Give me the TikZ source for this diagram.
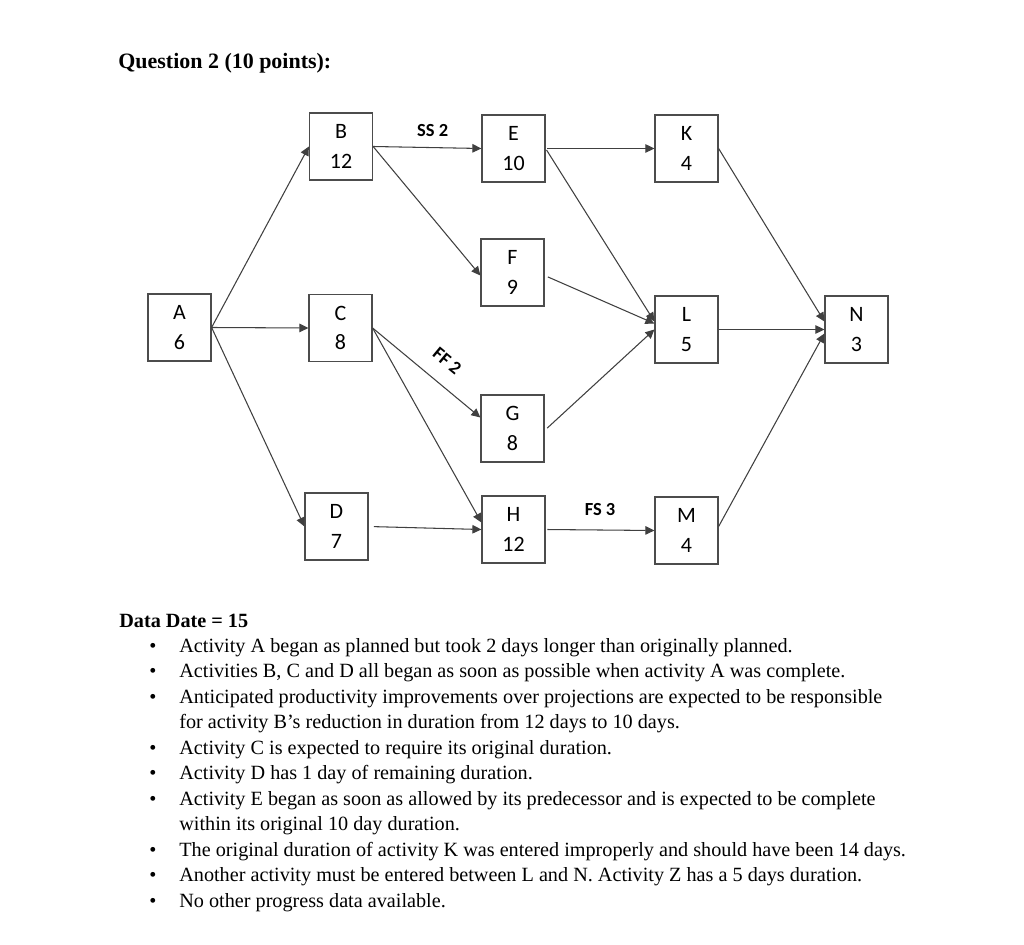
\documentclass[tikz,border=0pt]{standalone}
\usepackage{fontspec}
\setmainfont{Liberation Serif}
\newfontfamily\boxfont{Carlito}
\usetikzlibrary{arrows.meta, calc}
\tikzset{
  act/.style={draw=black!70, line width=0.7pt, minimum width=1.26cm, minimum height=1.34cm,
      inner sep=0pt, align=center, font=\boxfont\fontsize{12.5}{17}\selectfont},
  link/.style={draw=black!75, line width=0.6pt, -{Triangle[length=1.8mm, width=1.7mm]}},
  lag/.style={font=\boxfont\bfseries\fontsize{10.5}{12}\selectfont, inner sep=2pt},
}
\newcommand{\bul}{\par\noindent\hangindent=1.2cm\hangafter=1\makebox[1.2cm][r]{\textbullet\hspace{0.46cm}}}

\begin{document}
\begin{tikzpicture}[x=0.02cm, y=-0.02cm]
  \fill[white] (0,0) rectangle (1024,945);
  \useasboundingbox (0,0) rectangle (1024,945);
  % title
  \node[anchor=base west, inner sep=0pt, font=\bfseries\fontsize{12.5}{15}\selectfont] (title) at (118,69) {Question 2 (10 points):};
  % activities
  \node[act] (A) at (179.5,327.5) {A\\6};
  \node[act] (B) at (341,146.5) {B\\12};
  \node[act] (C) at (340.5,328) {C\\8};
  \node[act] (D) at (336.5,526.5) {D\\7};
  \node[act] (E) at (513.5,148.5) {E\\10};
  \node[act] (F) at (512.5,272.5) {F\\9};
  \node[act] (G) at (512.5,428.5) {G\\8};
  \node[act] (H) at (513.5,529.5) {H\\12};
  \node[act] (K) at (686.5,148.5) {K\\4};
  \node[act] (L) at (686.5,329.5) {L\\5};
  \node[act] (M) at (686.5,530.5) {M\\4};
  \node[act] (N) at (856.5,329.5) {N\\3};
  % links
  \draw[link] (A.east) -- (B.west);
  \draw[link] (A.east) -- (C.west);
  \draw[link] (A.east) -- (D.west);
  \draw[link] (B.east) -- node[lag, above=4pt, pos=0.55] (ss) {SS 2} (E.west);
  \draw[link] (B.east) -- ($(F.west)+(0,3)$);
  \draw[link] (C.east) -- node[lag, sloped, above=7pt, pos=0.56] (ff) {FF 2} ($(G.west)+(0,-11)$);
  \draw[link] (C.east) -- ($(H.west)+(0,-7)$);
  \draw[link, shorten <=3pt] (D.east) -- (H.west);
  \draw[link, shorten <=1pt] (E.east) -- (K.west);
  \draw[link, shorten <=1pt] (E.east) -- ($(L.west)+(0,-8)$);
  \draw[link, shorten <=2pt] ($(F.east)+(0,3)$) -- ($(L.west)+(0,-6)$);
  \draw[link, shorten <=2pt] ($(G.east)+(0,2)$) -- (L.west);
  \draw[link, shorten <=1pt] (H.east) -- node[lag, above=6pt, pos=0.5] (fs) {FS 3} (M.west);
  \draw[link] (K.east) -- ($(N.west)+(0,-8)$);
  \draw[link] (L.east) -- (N.west);
  \draw[link] ($(M.east)+(0,-4)$) -- ($(N.west)+(0,4)$);
  % progress notes
  \node[anchor=base west, inner sep=0pt] (notes) at (119,627) {\begin{minipage}[t]{17cm}
    \fontsize{11.5}{14.5}\selectfont\raggedright
    \textbf{Data Date = 15}
    \bul Activity A began as planned but took 2 days longer than originally planned.
    \bul Activities B, C and D all began as soon as possible when activity A was complete.
    \bul Anticipated productivity improvements over projections are expected to be responsible\newline
      for activity B’s reduction in duration from 12 days to 10 days.
    \bul Activity C is expected to require its original duration.
    \bul Activity D has 1 day of remaining duration.
    \bul Activity E began as soon as allowed by its predecessor and is expected to be complete\newline
      within its original 10 day duration.
    \bul The original duration of activity K was entered improperly and should have been 14 days.
    \bul Another activity must be entered between L and N. Activity Z has a 5 days duration.
    \bul No other progress data available.\par
  \end{minipage}};
\end{tikzpicture}
\end{document}
